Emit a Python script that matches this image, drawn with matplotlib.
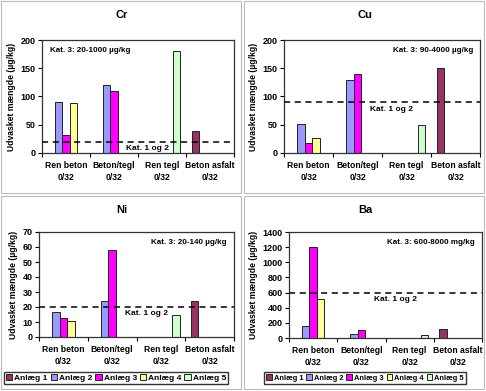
import numpy as np
import matplotlib
matplotlib.use("Agg")
import matplotlib.pyplot as plt
from matplotlib.patches import Rectangle, Patch

plt.rcParams['font.family'] = ['Liberation Sans', 'DejaVu Sans']
plt.rcParams['font.weight'] = 'bold'

categories = ["Ren beton\n0/32", "Beton/tegl\n0/32", "Ren tegl\n0/32", "Beton asfalt\n0/32"]
series_names = ["Anlæg 1", "Anlæg 2", "Anlæg 3", "Anlæg 4", "Anlæg 5"]
colors = ["#993366", "#9999FF", "#FF00FF", "#FFFF99", "#CCFFCC"]

# values per series (Anlæg 1..5), one per category; 0 = no bar
cr = [[0, 0, 0, 39], [91, 120, 0, 0], [31, 110, 0, 0], [88, 0, 0, 0], [0, 0, 180, 0]]
cu = [[0, 0, 0, 150], [51, 130, 0, 0], [18, 140, 0, 0], [26, 0, 0, 0], [0, 0, 50, 0]]
ni = [[0, 0, 0, 24], [17, 24, 0, 0], [13, 58, 0, 0], [11, 0, 0, 0], [0, 0, 15, 0]]
ba = [[0, 0, 0, 120], [160, 50, 0, 0], [1200, 100, 0, 0], [515, 0, 0, 0], [0, 0, 35, 0]]

limits = {"Cr": 20, "Cu": 90, "Ni": 20, "Ba": 600}
kat3 = {"Cr": "Kat. 3: 20-1000 µg/kg", "Cu": "Kat. 3: 90-4000 µg/kg",
        "Ni": "Kat. 3: 20-140 µg/kg", "Ba": "Kat. 3: 600-8000 mg/kg"}

W, H = 486, 391
fig = plt.figure(figsize=(W / 100, H / 100), dpi=100)

def px(l, t, r, b):
    return [l / W, 1 - b / H, (r - l) / W, (b - t) / H]

# panel frames
for (l, t, r, b) in [(1, 1, 241, 193), (244, 1, 484, 193), (1, 196, 241, 389), (244, 196, 484, 389)]:
    fig.patches.append(Rectangle((l / W, 1 - b / H), (r - l) / W, (b - t) / H,
                                 transform=fig.transFigure, fill=False,
                                 edgecolor="#BBBBBB", lw=0.8))

panels = [
    ("Cr", cr, (42, 40, 234, 153), 200, 50, (122, 15), "left"),
    ("Cu", cu, (284, 40, 480, 153), 200, 50, (365, 15), "right"),
    ("Ni", ni, (39, 232, 234, 337), 70, 10, (122, 210), "right"),
    ("Ba", ba, (289, 232, 482, 338), 1400, 200, (365, 210), "right"),
]

x = np.arange(len(categories))
w = 1 / 6.5
for name, data, box, ymax, ystep, tpos, kpos in panels:
    ax = fig.add_axes(px(*box))
    for i, vals in enumerate(data):
        vals = np.array(vals, dtype=float)
        m = vals > 0
        ax.bar(x[m] + (i - 2) * w, vals[m], width=w, color=colors[i],
               edgecolor="#222222", linewidth=0.7, zorder=2)
    ax.axhline(limits[name], color="black", ls=(0, (4, 3)), lw=1.1, zorder=3)
    ax.annotate("Kat. 1 og 2", xy=(1.7, limits[name]), xycoords="data", xytext=(0, -2.5),
                textcoords="offset points", ha="center", va="top", fontsize=6)
    if kpos == "left":
        ax.annotate(kat3[name], xy=(0, 1), xycoords="axes fraction", xytext=(6, -5),
                    textcoords="offset points", ha="left", va="top", fontsize=5.8)
    else:
        ax.annotate(kat3[name], xy=(1, 1), xycoords="axes fraction", xytext=(-5, -5),
                    textcoords="offset points", ha="right", va="top", fontsize=5.8)
    ax.set_xlim(-0.5, 3.5)
    ax.set_ylim(0, ymax)
    ax.set_yticks(np.arange(0, ymax + 1, ystep))
    ax.set_xticks(x)
    ax.set_xticklabels(categories, linespacing=1.45)
    ax.set_xticks(np.arange(-0.5, 4, 1), minor=True)
    ax.tick_params(axis="x", which="major", length=0, pad=6, labelsize=6.2)
    ax.tick_params(axis="x", which="minor", length=3, direction="out", width=0.8)
    ax.tick_params(axis="y", length=3, direction="out", width=0.8, labelsize=6.5, pad=1.5)
    for s in ax.spines.values():
        s.set_linewidth(0.9)
        s.set_color("#333333")
    ax.set_ylabel("Udvasket mængde (µg/kg)", fontsize=6.2, fontweight="bold", labelpad=3)
    fig.text(tpos[0] / W, 1 - tpos[1] / H, name, ha="center", va="center",
             fontsize=8, fontweight="bold")

handles = [Patch(facecolor=c, edgecolor="#222222", lw=0.7) for c in colors]
for cx, fs, cs in [(116, 6.0, 0.35), (365, 5.4, 0.4)]:
    fig.legend(handles, series_names, loc="center", bbox_to_anchor=(cx / W, 1 - 378 / H),
               ncol=5, fontsize=fs, frameon=True, fancybox=False, edgecolor="black",
               handlelength=0.75, handleheight=0.75, handletextpad=0.25, columnspacing=cs,
               borderpad=0.3, borderaxespad=0)

fig.savefig("out.png", dpi=100)
